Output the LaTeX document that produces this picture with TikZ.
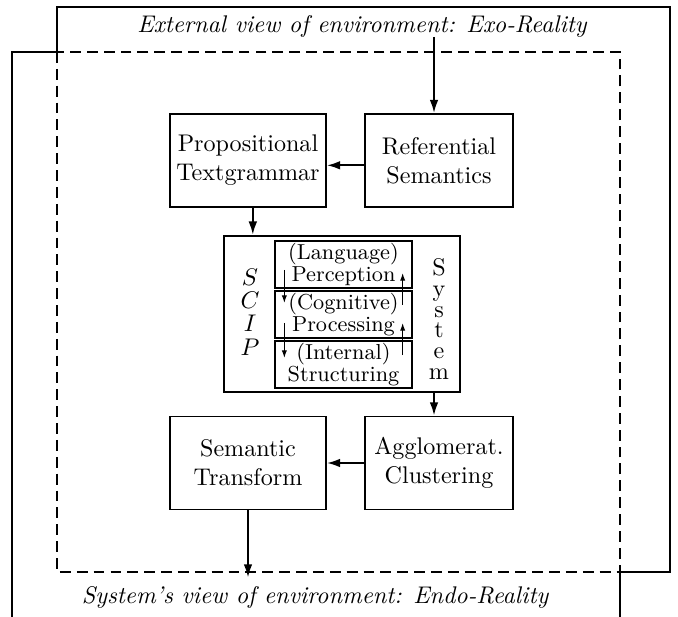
\documentclass[tikz,border=0pt]{standalone}
\usetikzlibrary{arrows.meta}
\begin{document}
\begin{tikzpicture}[x=0.415pt,y=-0.415pt,
  box/.style={draw, line width=0.8pt, align=center, minimum height=38.6pt, inner sep=2pt},
  stagebox/.style={draw, line width=0.5pt, align=center, font=\linespread{0.82}\small, minimum width=56.9pt, minimum height=19.5pt, inner sep=0pt},
  flow/.style={-{Latex[length=5.5pt,width=3.6pt]}, line width=0.8pt},
  smallflow/.style={-{Latex[length=3.2pt,width=2.2pt]}, line width=0.45pt}]
\useasboundingbox (0,0) rectangle (678,617);

\draw[line width=0.8pt] (12,617) -- (12,52) -- (57,52) -- (57,7) -- (670,7) -- (670,572) -- (620,572) -- (620,617);
\draw[line width=0.7pt, dash pattern=on 4.5pt off 2.5pt] (57,52) rectangle (620,572);

\node[anchor=base] (exo) at (362,33) {\itshape External view of environment: Exo-Reality};
\node[anchor=base] (endo) at (315,603) {\itshape System's view of environment: Endo-Reality};
\coordinate (exoin) at (434,37);

\node[box, minimum width=64.7pt] (prop) at (248,160.5) {Propositional\\Textgrammar};
\node[box, minimum width=61.4pt] (ref) at (439,160.5) {Referential\\Semantics};

\node[draw, line width=1.1pt, minimum width=97.9pt, minimum height=64.7pt] (scip) at (342,314) {};
\node[stagebox] (perc) at (343.5,264.5) {(Language)\\Perception};
\node[stagebox] (proc) at (343.5,314.5) {(Cognitive)\\Processing};
\node[stagebox] (struc) at (343.5,364.5) {(Internal)\\Structuring};
\node[align=center, font=\linespread{0.81}\normalsize] (scipname) at (250,312) {$S$\\$C$\\$I$\\$P$};
\node[align=center, font=\linespread{0.72}\normalsize] (sysname) at (439,319) {S\\y\\s\\t\\e\\m};

\node[box, minimum width=64.7pt] (sem) at (248,463) {Semantic\\Transform};
\node[box, minimum width=61.4pt] (agg) at (439,463) {Agglomerat.\\Clustering};

\draw[flow] (exoin) -- (exoin |- ref.north);
\draw[flow] ([yshift=-2pt]ref.west) -- ([yshift=-2pt]prop.east);
\draw[flow] ([xshift=2pt]prop.south) -- ([xshift=2pt]prop.south |- scip.north);
\draw[flow] (exoin |- scip.south) -- (exoin |- agg.north);
\draw[flow] (agg.west) -- (sem.east);
\draw[flow] (sem.south) -- (sem.south |- endo.north);

\draw[smallflow] ([shift={(10,5.5)}]perc.west) -- ([shift={(10,-11.5)}]proc.west);
\draw[smallflow] ([shift={(10,8.5)}]proc.west) -- ([shift={(10,-6.5)}]struc.west);
\draw[smallflow] ([shift={(-10,-9.5)}]struc.east) -- ([shift={(-10,8.5)}]proc.east);
\draw[smallflow] ([shift={(-10,-9.5)}]proc.east) -- ([shift={(-10,8.5)}]perc.east);
\end{tikzpicture}
\end{document}
